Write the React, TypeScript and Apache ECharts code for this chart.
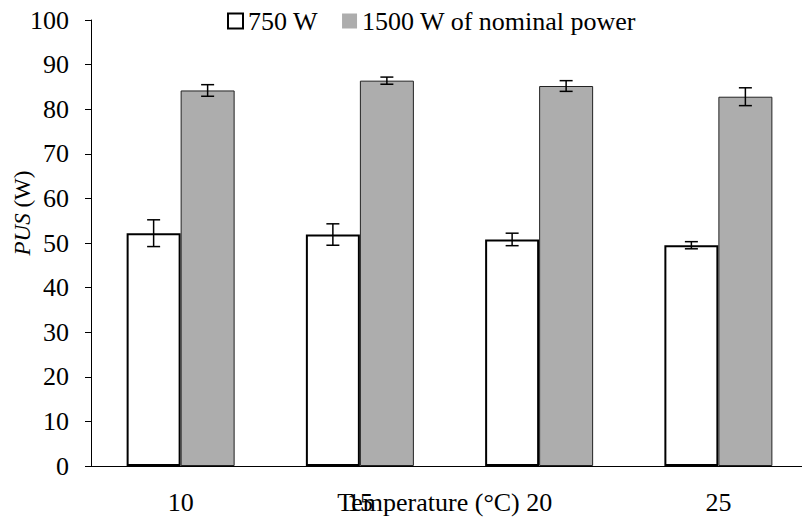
import React, { useEffect, useRef } from "react";
import * as echarts from "echarts";

const categories = ["10", "15", "20", "25"];
const pus750 = [52.2, 51.9, 50.8, 49.5];
const err750 = [3.0, 2.4, 1.4, 0.8];
const pus1500 = [84.2, 86.4, 85.2, 82.8];
const err1500 = [1.3, 0.8, 1.2, 2.0];
const seriesNames = ["750 W", "1500 W of nominal power"];

const FONT = "Liberation Serif";
const BAR_WIDTH = 54;

function errorSeries(values: number[], errs: number[], offset: number) {
  return {
    type: "custom",
    silent: true,
    z: 10,
    data: values.map((v, i) => [i, v, errs[i]]),
    renderItem: (params: any, api: any) => {
      const idx = api.value(0);
      const val = api.value(1);
      const err = api.value(2);
      const c = api.coord([idx, val]);
      const hi = api.coord([idx, val + err]);
      const lo = api.coord([idx, val - err]);
      const x = c[0] + offset;
      const cap = 6.5;
      const style = { stroke: "#000", lineWidth: 1.5 };
      return {
        type: "group",
        children: [
          { type: "line", shape: { x1: x, y1: hi[1], x2: x, y2: lo[1] }, style },
          { type: "line", shape: { x1: x - cap, y1: hi[1], x2: x + cap, y2: hi[1] }, style },
          { type: "line", shape: { x1: x - cap, y1: lo[1], x2: x + cap, y2: lo[1] }, style },
        ],
      };
    },
  };
}

export default function App() {
  const ref = useRef<HTMLDivElement>(null);
  useEffect(() => {
    document.body.style.margin = "0";
    const chart = echarts.init(ref.current!, null, { renderer: "svg" });
    chart.setOption({
      animation: false,
      backgroundColor: "#fff",
      textStyle: { fontFamily: FONT, color: "#000" },
      grid: { left: 91, right: -6, top: 20, bottom: 60, containLabel: false, outerBoundsMode: "none" },
      legend: {
        left: 222,
        top: 3,
        itemWidth: 15,
        itemHeight: 15,
        itemGap: 24,
        icon: "rect",
        textStyle: { fontFamily: FONT, fontSize: 26, color: "#000" },
        data: [
          { name: seriesNames[0], itemStyle: { color: "#fff", borderColor: "#000", borderWidth: 2 } },
          { name: seriesNames[1], itemStyle: { color: "#adadad", borderWidth: 0 } },
        ],
      },
      xAxis: {
        type: "category",
        data: categories,
        name: "Temperature (°C)",
        nameLocation: "middle",
        nameGap: 23,
        nameMoveOverlap: false,
        nameTextStyle: { fontFamily: FONT, fontSize: 26, color: "#000", padding: [0, 42, 0, 0] },
        axisLine: { lineStyle: { color: "#000", width: 1 } },
        axisTick: { length: 8, lineStyle: { color: "#000" } },
        axisLabel: { fontFamily: FONT, fontSize: 26, color: "#000", margin: 23 },
      },
      yAxis: {
        type: "value",
        min: 0,
        max: 100,
        interval: 10,
        name: "{i|PUS} (W)",
        nameLocation: "middle",
        nameGap: 57,
        nameMoveOverlap: false,
        nameTextStyle: {
          fontFamily: FONT,
          fontSize: 23,
          color: "#000",
          padding: [0, 0, 0, 60],
          rich: { i: { fontStyle: "italic", fontFamily: FONT, fontSize: 23, color: "#000" } },
        },
        splitLine: { show: false },
        axisLine: { show: true, lineStyle: { color: "#000", width: 1 } },
        axisTick: { show: true, length: 6, lineStyle: { color: "#000" } },
        axisLabel: { fontFamily: FONT, fontSize: 26, color: "#000", margin: 22 },
      },
      series: [
        {
          name: seriesNames[0],
          type: "bar",
          data: pus750,
          barWidth: BAR_WIDTH,
          barGap: "0%",
          itemStyle: { color: "#fff", borderColor: "#000", borderWidth: 2 },
        },
        {
          name: seriesNames[1],
          type: "bar",
          data: pus1500,
          barWidth: BAR_WIDTH,
          barGap: "0%",
          itemStyle: { color: "#adadad", borderColor: "#222", borderWidth: 1 },
        },
        errorSeries(pus750, err750, -BAR_WIDTH / 2),
        errorSeries(pus1500, err1500, BAR_WIDTH / 2),
      ],
    });
    return () => chart.dispose();
  }, []);
  return <div ref={ref} style={{ width: 802, height: 526 }} />;
}
